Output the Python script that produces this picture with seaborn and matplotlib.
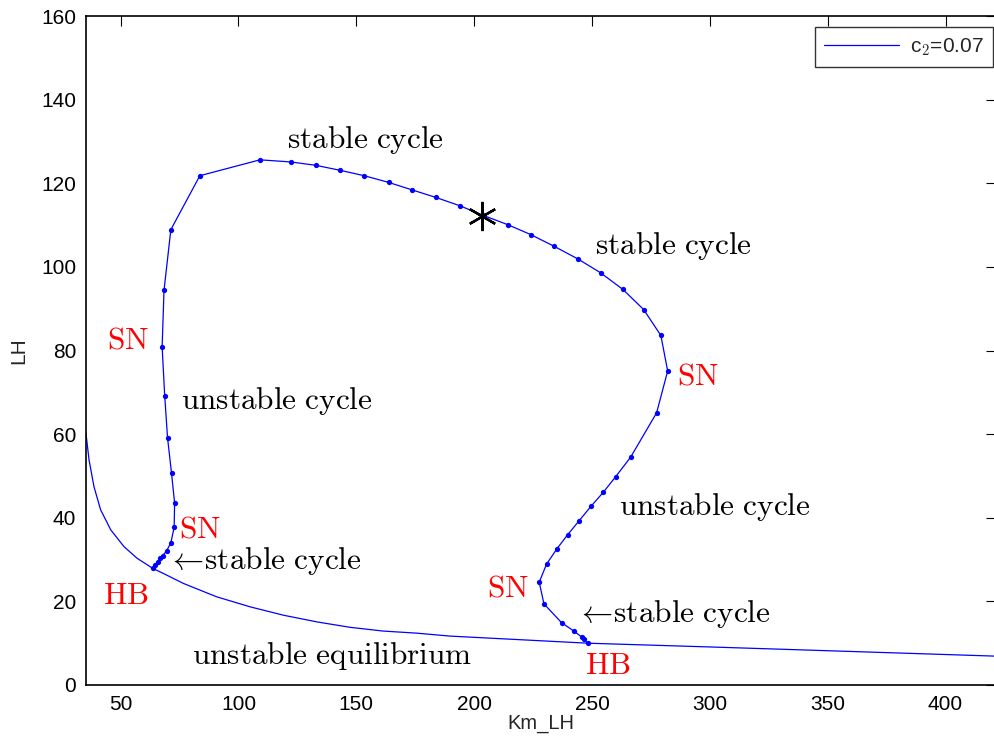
import matplotlib
matplotlib.use("Agg")
import matplotlib.pyplot as plt
import seaborn as sns
import pandas as pd

# ---- data ----
cycle_km = [63.6, 64.6, 65.7, 66.7, 67.8, 69.5, 71.3, 72.7, 72.9, 71.6, 69.9, 68.7,
            67.6, 68.4, 71.3, 83.6, 109.1, 122.1, 132.7, 143.1, 153.4, 163.7, 173.7,
            183.8, 194.0, 203.9, 214.2, 224.1, 234.0, 244.0, 253.6, 263.1, 271.9, 279.2,
            282.1, 277.4, 266.4, 260.0, 254.8, 249.5, 244.4, 239.6, 235.0, 230.7,
            227.6, 229.6, 237.1, 242.3, 245.8, 246.6, 248.1]
cycle_lh = [27.9, 28.7, 29.5, 30.3, 30.9, 32.1, 34.0, 37.7, 43.5, 50.6, 59.1, 69.1,
            80.9, 94.4, 108.9, 121.8, 125.6, 125.1, 124.3, 123.1, 121.8, 120.2, 118.4,
            116.6, 114.6, 112.3, 110.1, 107.7, 104.9, 101.9, 98.6, 94.6, 89.8, 83.6,
            75.1, 65.1, 54.5, 49.8, 46.1, 42.7, 39.2, 35.9, 32.5, 28.9,
            24.6, 19.4, 14.9, 12.9, 11.4, 11.0, 10.0]

equil_km = [35.2, 36.6, 38.7, 41.5, 45.8, 51.4, 57.0, 63.6, 68.4, 76.6, 90.7, 104.9,
            119.0, 133.2, 147.3, 161.4, 175.6, 189.7, 248.1, 300.0, 350.0, 421.4]
equil_lh = [60.6, 53.8, 47.4, 41.9, 37.1, 33.1, 30.3, 27.9, 26.6, 24.3, 21.1, 18.7,
            16.7, 15.1, 13.8, 12.9, 12.4, 11.7, 10.0, 9.1, 8.2, 6.9]

star_km = [203.2]
star_lh = [112.2]

labels = [r"$\mathrm{stable\ cycle}$", r"$\mathrm{stable\ cycle}$", r"$\mathrm{SN}$",
          r"$\mathrm{unstable\ cycle}$", r"$\mathrm{SN}$", r"$\mathrm{unstable\ cycle}$",
          r"$\mathrm{SN}$", r"$\leftarrow\!\mathrm{stable\ cycle}$", r"$\mathrm{HB}$",
          r"$\mathrm{SN}$", r"$\leftarrow\!\mathrm{stable\ cycle}$",
          r"$\mathrm{unstable\ equilibrium}$", r"$\mathrm{HB}$"]
label_x = [153.9, 284.7, 53.1, 116.1, 294.9, 302.1, 83.6, 110.8, 52.2, 214.3, 284.5, 139.9, 256.5]
label_y = [130.4, 105.0, 82.5, 67.9, 73.9, 42.6, 37.1, 29.7, 21.3, 23.0, 17.0, 6.9, 4.5]
label_colors = ["black", "black", "red", "black", "red", "black", "red", "black", "red",
                "red", "black", "black", "red"]

x_ticks = [50, 100, 150, 200, 250, 300, 350, 400]
y_ticks = [0, 20, 40, 60, 80, 100, 120, 140, 160]

# ---- plotting ----
sns.set_style("white")
plt.rcParams["font.family"] = ["Liberation Sans", "DejaVu Sans"]
plt.rcParams["mathtext.fontset"] = "cm"

fig = plt.figure(figsize=(9.95, 7.37), dpi=100)
ax = fig.add_axes([86 / 995, 52 / 737, 910 / 995, 669 / 737])

cyc = pd.DataFrame({"Km_LH": cycle_km, "LH": cycle_lh})
eq = pd.DataFrame({"Km_LH": equil_km, "LH": equil_lh})

sns.lineplot(data=eq, x="Km_LH", y="LH", sort=False, estimator=None, color="#0000ff",
             lw=0.9, ax=ax, label=r"c$_{\mathsf{2}}$=0.07")
sns.lineplot(data=cyc, x="Km_LH", y="LH", sort=False, estimator=None, color="#0000ff",
             lw=0.9, marker="o", markersize=3.8, markeredgewidth=0, ax=ax)
ax.plot(star_km, star_lh, marker=(6, 2, 0), markersize=21, color="black",
        markeredgewidth=1.7, linestyle="none")

for t, x, y, c in zip(labels, label_x, label_y, label_colors):
    ax.text(x, y, t, color=c, fontsize=22.5, ha="center", va="center")

ax.set_xlim(35.3, 421.4)
ax.set_ylim(0, 160)
ax.set_xticks(x_ticks)
ax.set_yticks(y_ticks)
ax.tick_params(direction="in", length=7, width=0.8, top=True, right=True,
               labelsize=15, colors="black", pad=7)
for s in ax.spines.values():
    s.set_visible(True)
    s.set_color("black")
    s.set_linewidth(1.2)

ax.set_xlabel("Km_LH", fontsize=14.5, labelpad=0)
ax.set_ylabel("LH", fontsize=15, labelpad=9)

leg = ax.legend(loc="upper right", bbox_to_anchor=(993 / 995, 1 - 27 / 737),
                bbox_transform=fig.transFigure, fontsize=15, frameon=True,
                fancybox=False, edgecolor="black", borderaxespad=0,
                handlelength=3.6, borderpad=0.45, handletextpad=0.5)
leg.get_frame().set_linewidth(1.0)

fig.savefig("out.png", dpi=100)
